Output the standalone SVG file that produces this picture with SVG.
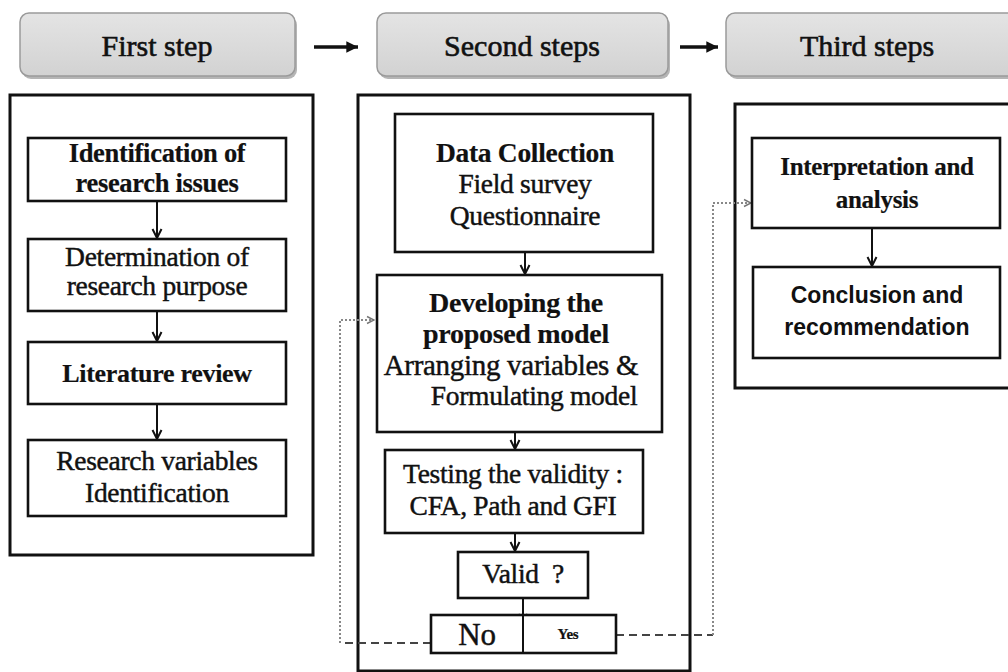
<svg xmlns="http://www.w3.org/2000/svg" width="1008" height="672" viewBox="0 0 1008 672">
<defs>
<linearGradient id="hg" x1="0" y1="0" x2="0" y2="1">
<stop offset="0" stop-color="#e4e4e4"/>
<stop offset="1" stop-color="#d2d2d2"/>
</linearGradient>
<marker id="v" viewBox="0 0 12 12" refX="11" refY="6" markerWidth="12" markerHeight="12" orient="auto" markerUnits="userSpaceOnUse">
<path d="M2,1.5 L11,6 L2,10.5" fill="none" stroke="#111" stroke-width="2"/>
</marker>
<marker id="g" viewBox="0 0 10 10" refX="9" refY="5" markerWidth="10" markerHeight="10" orient="auto" markerUnits="userSpaceOnUse">
<path d="M2,1.5 L9,5 L2,8.5" fill="none" stroke="#777" stroke-width="1.5"/>
</marker>
<marker id="h" viewBox="0 0 12 12" refX="11" refY="6" markerWidth="14" markerHeight="14" orient="auto" markerUnits="userSpaceOnUse">
<path d="M1,1 L11,6 L1,11 Z" fill="#111"/>
</marker>
</defs>
<style>
.hdr{fill:url(#hg);stroke:#9a9a9a;stroke-width:1.5}
.shd{fill:#b5b5b5}
.outer{fill:#fff;stroke:#111;stroke-width:3}
.box{fill:#fff;stroke:#111;stroke-width:2.6}
.t{font-family:"Liberation Serif","Times New Roman",serif;font-size:27.5px;fill:#111;stroke:#111;stroke-width:0.45;text-anchor:middle;letter-spacing:-0.3px}
.b{font-weight:bold;stroke-width:0.2}
.ht{font-family:"Liberation Serif","Times New Roman",serif;font-size:30px;fill:#111;stroke:#111;stroke-width:0.6;text-anchor:middle}
.s{font-family:"Liberation Sans",Arial,sans-serif;font-size:23px;font-weight:bold;fill:#111;text-anchor:middle}
.ar{fill:none;stroke:#111;stroke-width:2}
.dash{fill:none;stroke:#444;stroke-width:2;stroke-dasharray:8 5}
.dot{fill:none;stroke:#888;stroke-width:2;stroke-dasharray:2 2}
</style>
<rect width="1008" height="672" fill="#fff"/>

<g id="head1">
<rect class="shd" x="22" y="16" width="275" height="63" rx="9"/>
<rect class="hdr" x="20" y="13" width="275" height="63" rx="9"/>
<text class="ht" x="157" y="56">First step</text>
</g>
<g id="head2">
<rect class="shd" x="379" y="16" width="291" height="63" rx="9"/>
<rect class="hdr" x="377" y="13" width="291" height="63" rx="9"/>
<text class="ht" x="522" y="56">Second steps</text>
</g>
<g id="head3">
<rect class="shd" x="728" y="16" width="292" height="63" rx="9"/>
<rect class="hdr" x="726" y="13" width="292" height="63" rx="9"/>
<text class="ht" x="867" y="56">Third steps</text>
</g>

<g id="panel1"><rect class="outer" x="10" y="95" width="303" height="460"/></g>
<g id="panel2"><rect class="outer" x="358" y="95" width="332" height="576"/></g>
<g id="panel3"><rect class="outer" x="735" y="104" width="290" height="284"/></g>

<g id="connectors">
<line x1="314" y1="47" x2="358" y2="47" stroke="#111" stroke-width="3.5" marker-end="url(#h)"/>
<line x1="680" y1="47" x2="718" y2="47" stroke="#111" stroke-width="3.5" marker-end="url(#h)"/>
<line class="ar" x1="157" y1="201" x2="157" y2="238" marker-end="url(#v)"/>
<line class="ar" x1="157" y1="311" x2="157" y2="341" marker-end="url(#v)"/>
<line class="ar" x1="157" y1="404" x2="157" y2="439" marker-end="url(#v)"/>
<line class="ar" x1="525" y1="252" x2="525" y2="274" marker-end="url(#v)"/>
<line class="ar" x1="515" y1="432" x2="515" y2="449" marker-end="url(#v)"/>
<line class="ar" x1="515" y1="533" x2="515" y2="551" marker-end="url(#v)"/>
<line class="ar" x1="523" y1="598" x2="523" y2="623" marker-end="url(#v)"/>
<line class="ar" x1="872" y1="228" x2="872" y2="266" marker-end="url(#v)"/>
<path class="dash" d="M431,643 H340"/>
<path class="dot" d="M340,643 V320 H374" marker-end="url(#g)"/>
<path class="dash" d="M616,635 H713"/>
<path class="dot" d="M713,635 V203 H751" marker-end="url(#g)"/>
</g>

<g id="n1">
<rect class="box" x="28" y="138" width="258" height="63"/>
<text class="t b" x="157" y="162" style="font-size:26.5px">Identification of</text>
<text class="t b" x="157" y="192" style="font-size:26.5px">research issues</text>
</g>
<g id="n2">
<rect class="box" x="28" y="239" width="258" height="72"/>
<text class="t" x="157" y="266">Determination of</text>
<text class="t" x="157" y="295">research purpose</text>
</g>
<g id="n3">
<rect class="box" x="28" y="342" width="258" height="62"/>
<text class="t b" x="157" y="382" style="font-size:26px">Literature review</text>
</g>
<g id="n4">
<rect class="box" x="28" y="440" width="258" height="76"/>
<text class="t" x="157" y="470">Research variables</text>
<text class="t" x="157" y="502">Identification</text>
</g>

<g id="n5">
<rect class="box" x="395" y="114" width="258" height="138"/>
<text class="t b" x="525" y="162">Data Collection</text>
<text class="t" x="525" y="193">Field survey</text>
<text class="t" x="525" y="225">Questionnaire</text>
</g>
<g id="n6">
<rect class="box" x="377" y="275" width="285" height="157"/>
<text class="t b" x="516" y="312" style="font-size:28px">Developing the</text>
<text class="t b" x="516" y="343" style="font-size:28px">proposed model</text>
<text class="t" x="511" y="375" style="font-size:29px">Arranging variables &amp;</text>
<text class="t" x="534" y="405">Formulating model</text>
</g>
<g id="n7">
<rect class="box" x="385" y="450" width="258" height="83"/>
<text class="t" x="513" y="483">Testing the validity :</text>
<text class="t" x="513" y="515">CFA, Path and GFI</text>
</g>
<g id="n8">
<rect class="box" x="458" y="552" width="130" height="46"/>
<text class="t" x="523" y="583" xml:space="preserve">Valid  ?</text>
</g>
<g id="n9">
<rect class="box" x="431" y="615" width="185" height="38"/>
<line x1="523" y1="615" x2="523" y2="653" stroke="#111" stroke-width="2"/>
<text class="t" x="477" y="645" style="font-size:31px">No</text>
<text class="t b" x="568" y="639" style="font-size:15px">Yes</text>
</g>

<g id="n10">
<rect class="box" x="752" y="138" width="248" height="90"/>
<text class="t b" x="877" y="175" style="font-size:25px">Interpretation and</text>
<text class="t b" x="877" y="208" style="font-size:25px">analysis</text>
</g>
<g id="n11">
<rect class="box" x="753" y="267" width="247" height="91"/>
<text class="s" x="877" y="303">Conclusion and</text>
<text class="s" x="877" y="335">recommendation</text>
</g>
</svg>
